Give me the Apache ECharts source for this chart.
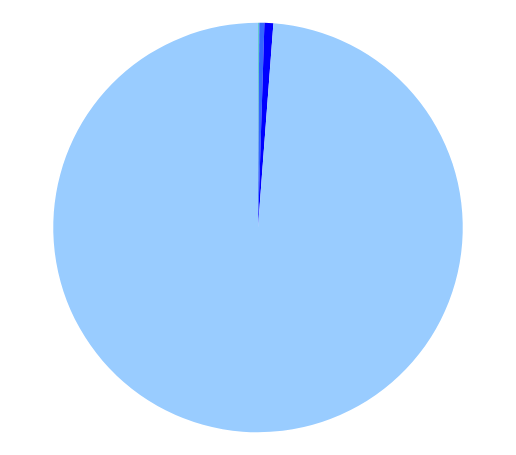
<!DOCTYPE html>
<html>
<head>
    <meta charset="utf-8">
    <title>pie</title>
    <script src="https://cdnjs.cloudflare.com/ajax/libs/echarts/6.0.0/echarts.min.js"></script>
    <style>
        html, body { margin: 0; padding: 0; background: #fff; }
    </style>
</head>
<body>
    <div id="main" style="width: 516px;height:455px;"></div>
    <script type="text/javascript">

    // slices, clockwise from the top
    var names = ['A', 'B', 'C', 'D'];
    var values = [0.1, 0.4, 0.7, 98.8];
    var colors = ['#66cccc', '#3366ff', '#0000ff', '#99ccff'];

    var myChart = echarts.init(document.getElementById('main'));

    var pieData = [];
    names.forEach(function (n, i) {
        pieData.push({ name: n, value: values[i], itemStyle: { color: colors[i] } });
    });

    var option = {
        animation: false,
        series: [{
            type: 'pie',
            center: ['50%', '50%'],
            radius: '90%',
            startAngle: 90,
            clockwise: true,
            label: { show: false },
            labelLine: { show: false },
            itemStyle: { borderWidth: 0 },
            emphasis: { disabled: true },
            data: pieData
        }]
    };

    myChart.setOption(option);
    </script>
</body>
</html>
